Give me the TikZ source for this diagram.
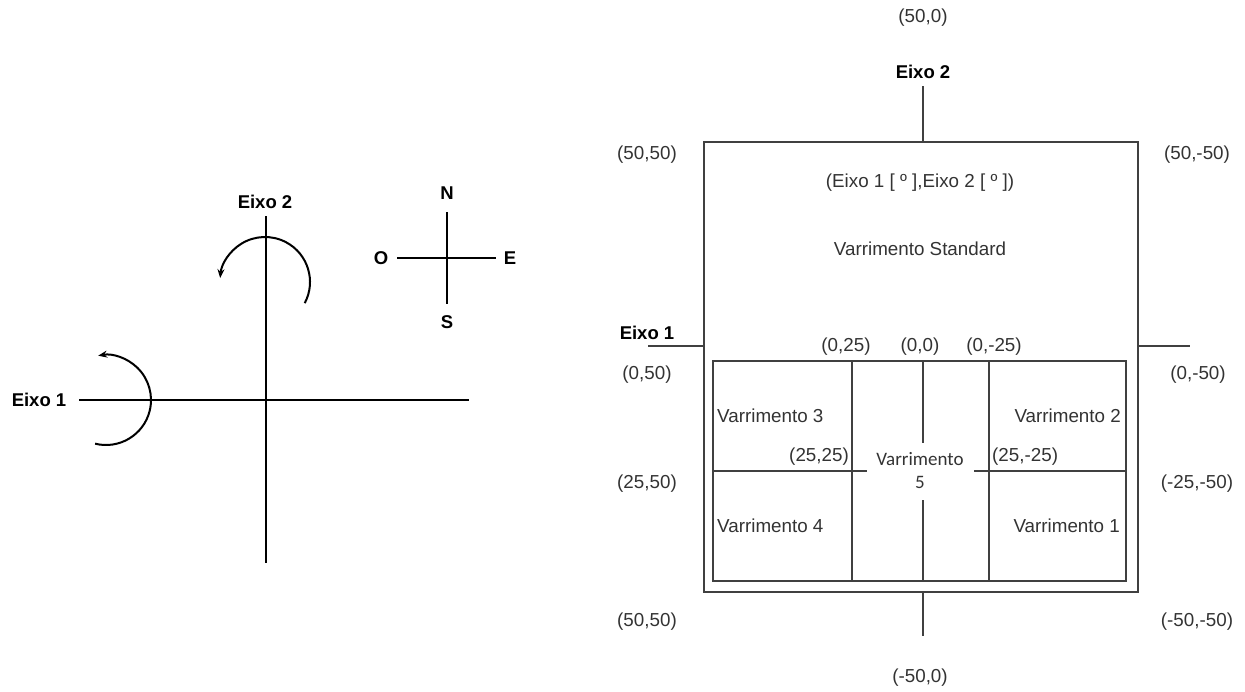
\documentclass[tikz,border=0pt]{standalone}
\usepackage{fontspec}
\setmainfont{Liberation Sans}
\newfontfamily\calibfont{Carlito}
\usetikzlibrary{arrows.meta,positioning,calc}
\tikzset{
 axis/.style={line width=2pt,black},
 compass/.style={line width=1.3pt,black},
 rot/.style={line width=2pt,-{Stealth[length=9pt,width=7pt]}},
 frame/.style={line width=1.4pt,black!75},
 bold/.style={font=\fontsize{18.5}{20}\selectfont\bfseries,inner sep=0pt},
 lbl/.style={font=\fontsize{18.8}{20}\selectfont,text=black!80,inner sep=0pt},
}
\begin{document}
\begin{tikzpicture}[x=1pt,y=1pt]
\useasboundingbox[fill=white] (0,0) rectangle (1245,-691);
% left: axes and rotations
\coordinate (a2t) at (265.5,-216);
\coordinate (a2b) at (265.5,-563);
\coordinate (a1l) at (79,-400);
\coordinate (a1r) at (469,-400);
\draw[axis] (a2t) -- (a2b);
\draw[axis] (a1l) -- (a1r);
\node[bold] (e1) at (39,-400) {Eixo 1};
\node[bold] (e2) at (265,-202) {Eixo 2};
\coordinate (r2) at (265,-282);
\coordinate (r1) at (106,-400);
\draw[rot] ([shift={(-28:45)}]r2) arc[start angle=-28,end angle=175,radius=45];
\draw[rot] ([shift={(-104:45)}]r1) arc[start angle=-104,end angle=100,radius=45];
% compass
\node[bold] (n) at (447,-193) {N};
\node[bold] (s) at (447,-322) {S};
\node[bold] (o) at (381,-258) {O};
\node[bold] (e) at (510,-258) {E};
\coordinate (cn) at (447,-212);
\coordinate (cs) at (447,-304);
\coordinate (co) at (397,-258);
\coordinate (ce) at (496,-258);
\draw[compass] (cn) -- (cs);
\draw[compass] (co) -- (ce);
% right: scan frames
\coordinate (ob1) at (704,-142);
\coordinate (ob2) at (1138,-592);
\coordinate (ib1) at (713,-361);
\coordinate (ib2) at (1126,-581);
\draw[frame] (ob1) rectangle (ob2);
\draw[frame] (ib1) rectangle (ib2);
\coordinate (t1) at (923,-86);
\coordinate (t2) at (923,-142);
\coordinate (b1) at (923,-592);
\coordinate (b2) at (923,-636);
\coordinate (l1) at (648,-346);
\coordinate (l2) at (704,-346);
\coordinate (q1) at (1138,-346);
\coordinate (q2) at (1190,-346);
\draw[frame] (t1) -- (t2);
\draw[frame] (b1) -- (b2);
\draw[frame] (l1) -- (l2);
\draw[frame] (q1) -- (q2);
\coordinate (v1t) at (852,-361);
\coordinate (v1b) at (852,-581);
\coordinate (v3t) at (989,-361);
\coordinate (v3b) at (989,-581);
\coordinate (v2t) at (923,-361);
\coordinate (v2m) at (923,-443);
\coordinate (v2n) at (923,-500);
\coordinate (v2b) at (923,-581);
\coordinate (h1) at (713,-471);
\coordinate (h2) at (867,-471);
\coordinate (h3) at (974,-471);
\coordinate (h4) at (1126,-471);
\draw[frame] (v1t) -- (v1b);
\draw[frame] (v3t) -- (v3b);
\draw[frame] (v2t) -- (v2m);
\draw[frame] (v2n) -- (v2b);
\draw[frame] (h1) -- (h2);
\draw[frame] (h3) -- (h4);
% right: labels
\node[lbl] (p500) at (923,-18) {(50,0)};
\node[bold] (re2) at (923,-72) {Eixo 2};
\node[lbl] (tl) at (647,-155) {(50,50)};
\node[lbl] (tr) at (1197,-155) {(50,-50)};
\node[lbl] (unit) at (920,-183) {(Eixo 1 [ º ],Eixo 2 [ º ])};
\node[lbl] (std) at (920,-249) {Varrimento Standard};
\node[bold] (re1) at (647,-333) {Eixo 1};
\node[lbl] (c025) at (846,-347) {(0,25)};
\node[lbl] (c00) at (920,-347) {(0,0)};
\node[lbl] (c0m25) at (994,-347) {(0,-25)};
\node[lbl] (ml) at (647,-375) {(0,50)};
\node[lbl] (mr) at (1198,-375) {(0,-50)};
\node[lbl,anchor=west] (v3) at (717,-416) {Varrimento 3};
\node[lbl,anchor=east] (v2) at (1121,-416) {Varrimento 2};
\node[lbl,anchor=east] (c2525) at (849,-457) {(25,25)};
\node[lbl,anchor=west] (c25m25) at (992,-457) {(25,-25)};
\node[lbl,font=\calibfont\fontsize{19}{23}\selectfont,align=center] (v5) at (920,-471) {Varrimento\\5};
\node[lbl] (ql) at (647,-484) {(25,50)};
\node[lbl] (qr) at (1197,-484) {(-25,-50)};
\node[lbl,anchor=west] (v4) at (717,-526) {Varrimento 4};
\node[lbl,anchor=east] (v1) at (1120,-526) {Varrimento 1};
\node[lbl] (bl) at (647,-622) {(50,50)};
\node[lbl] (br) at (1197,-622) {(-50,-50)};
\node[lbl] (m500) at (920,-678) {(-50,0)};
\end{tikzpicture}
\end{document}
